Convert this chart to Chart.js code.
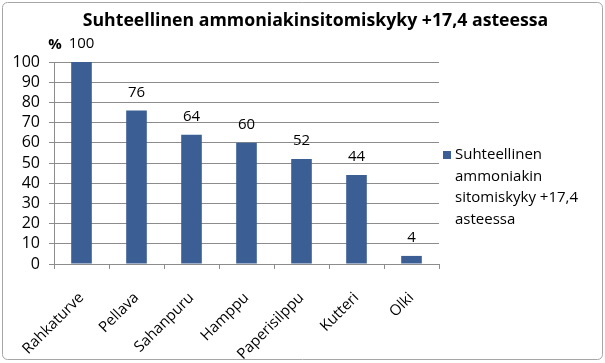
<!DOCTYPE html>
<html>
<head>
<meta charset="utf-8">
<script src="https://cdn.jsdelivr.net/npm/chart.js@4"></script>
<style>
  html, body { margin: 0; padding: 0; background: #ffffff; }
  #wrap { width: 605px; height: 363px; }
</style>
</head>
<body>
<div id="wrap"><canvas id="c" width="605" height="363"></canvas></div>
<script>
// ---- data ----
const chartTitle = 'Suhteellinen ammoniakinsitomiskyky +17,4 asteessa';
const seriesName = 'Suhteellinen ammoniakin sitomiskyky +17,4 asteessa';
const unitLabel = '%';
const categories = ['Rahkaturve', 'Pellava', 'Sahanpuru', 'Hamppu', 'Paperisilppu', 'Kutteri', 'Olki'];
const values = [100, 76, 64, 60, 52, 44, 4];
const yMin = 0;
const yMax = 100;
const yStep = 10;

// ---- style ----
const FONT = '"Open Sans", "Liberation Sans", sans-serif';
const BAR = '#3b5f94';
const GRID = '#8c8c8c';

const framePlugin = {
  id: 'frame',
  beforeDraw(chart) {
    const ctx = chart.ctx;
    ctx.save();
    ctx.fillStyle = '#ffffff';
    ctx.fillRect(0, 0, chart.width, chart.height);
    ctx.strokeStyle = '#a6a6a6';
    ctx.lineWidth = 1;
    ctx.beginPath();
    ctx.roundRect(2.5, 2.5, chart.width - 5, chart.height - 6, 5);
    ctx.stroke();
    ctx.restore();
  }
};

const annotatePlugin = {
  id: 'annotate',
  afterDatasetsDraw(chart) {
    const ctx = chart.ctx;
    const area = chart.chartArea;
    const meta = chart.getDatasetMeta(0);
    ctx.save();
    // value labels above bars
    ctx.fillStyle = '#000000';
    ctx.font = '15px ' + FONT;
    ctx.textAlign = 'center';
    ctx.textBaseline = 'middle';
    meta.data.forEach((bar, i) => {
      ctx.fillText(String(values[i]), bar.x, bar.y - 18);
    });
    // unit label
    ctx.font = 'bold 15px ' + FONT;
    ctx.fillText(unitLabel, area.left + 1, area.top - 17);
    // title
    ctx.font = 'bold 17.7px ' + FONT;
    ctx.fillText(chartTitle, chart.width / 2 + 13, 21);
    // legend
    const lx = area.right + 4;
    const ly = area.top + 93;
    ctx.fillStyle = BAR;
    ctx.fillRect(lx, ly - 4, 8, 8);
    ctx.fillStyle = '#000000';
    ctx.font = '15px ' + FONT;
    ctx.textAlign = 'left';
    const maxW = chart.width - (lx + 12) - 8;
    const words = seriesName.split(' ');
    const lines = [];
    let cur = '';
    words.forEach(w => {
      const test = cur ? cur + ' ' + w : w;
      if (cur && ctx.measureText(test).width > maxW) { lines.push(cur); cur = w; }
      else cur = test;
    });
    if (cur) lines.push(cur);
    lines.forEach((t, k) => ctx.fillText(t, lx + 12, ly + k * 21.5));
    ctx.restore();
  }
};

new Chart(document.getElementById('c'), {
  type: 'bar',
  data: {
    labels: categories,
    datasets: [{
      label: seriesName,
      data: values,
      backgroundColor: BAR,
      borderWidth: 0,
      categoryPercentage: 1.0,
      barPercentage: 0.375
    }]
  },
  options: {
    responsive: false,
    animation: false,
    devicePixelRatio: 1,
    layout: { padding: { left: 0, right: 166, top: 62, bottom: 0 } },
    plugins: {
      legend: { display: false },
      title: { display: false },
      tooltip: { enabled: false }
    },
    scales: {
      x: {
        grid: { display: true, drawOnChartArea: false, drawTicks: true, tickLength: 5, color: GRID, offset: true },
        border: { display: true, color: GRID, width: 1 },
        ticks: { color: '#000000', font: { family: FONT, size: 15 }, minRotation: 45, maxRotation: 45, padding: 20, autoSkip: false },
        afterFit(scale) { scale.height = 99; }
      },
      y: {
        min: yMin,
        max: yMax,
        grid: { color: GRID, tickLength: 5, drawTicks: true },
        border: { display: true, color: GRID, width: 1 },
        ticks: { stepSize: yStep, color: '#000000', font: { family: FONT, size: 16 }, padding: 9, autoSkip: false },
        afterFit(scale) { scale.width = 54; }
      }
    }
  },
  plugins: [framePlugin, annotatePlugin]
});
</script>
</body>
</html>
